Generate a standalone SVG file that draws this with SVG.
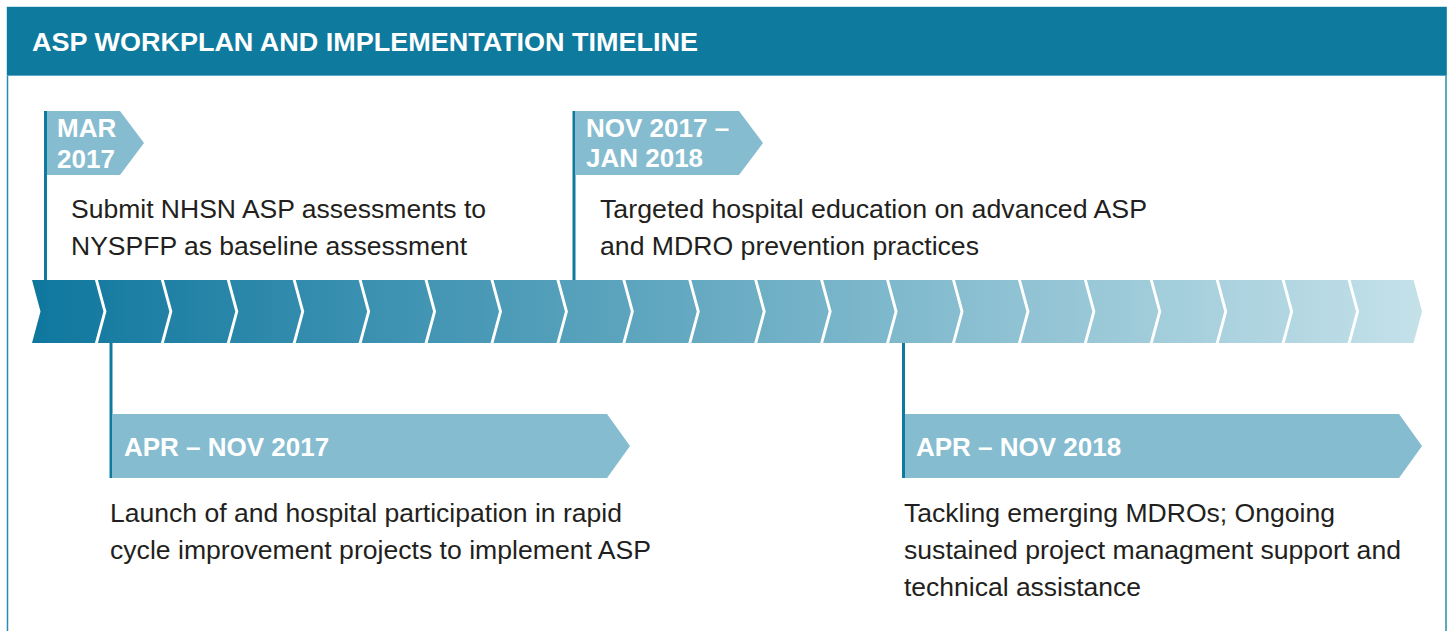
<svg xmlns="http://www.w3.org/2000/svg" width="1448" height="631" viewBox="0 0 1448 631">
<defs>
<style>
.title{font-family:"Liberation Sans",Arial,sans-serif;font-weight:bold;font-size:26px;fill:#fff}
.tag{fill:#86bcd0}
.tagtxt{font-family:"Liberation Sans",Arial,sans-serif;font-weight:bold;font-size:26px;fill:#fff}
.body{font-family:"Liberation Sans",Arial,sans-serif;font-size:25px;fill:#231f20}
.stem{stroke:#0f7a9e;stroke-width:3;fill:none}
</style>
<linearGradient id="band" gradientUnits="userSpaceOnUse" x1="33" y1="0" x2="1422" y2="0">
<stop offset="0" stop-color="#0f779e"/>
<stop offset="1" stop-color="#c4e1e9"/>
</linearGradient>
</defs>
<rect x="0" y="0" width="1448" height="631" fill="#fff"/>
<g id="frame">
<rect x="7.5" y="7.5" width="1438.5" height="640" fill="none" stroke="#2a8bb0" stroke-width="1.5"/>
<rect x="7" y="7" width="1439.5" height="68" fill="#0e7a9e"/>
<line x1="7" y1="75.5" x2="1446" y2="75.5" stroke="#5aa6c4" stroke-width="1"/>
<text class="title" x="32" y="51" textLength="666" lengthAdjust="spacingAndGlyphs">ASP WORKPLAN AND IMPLEMENTATION TIMELINE</text>
</g>
<g id="timeline-band" fill="url(#band)">
<polygon points="32,280 94.93,280 103.43,311.5 94.93,343 32,343 40.5,311.5"/>
<polygon points="97.93,280 160.86,280 169.36,311.5 160.86,343 97.93,343 106.43,311.5"/>
<polygon points="163.86,280 226.79,280 235.29,311.5 226.79,343 163.86,343 172.36,311.5"/>
<polygon points="229.79,280 292.72,280 301.22,311.5 292.72,343 229.79,343 238.29,311.5"/>
<polygon points="295.72,280 358.65,280 367.15,311.5 358.65,343 295.72,343 304.22,311.5"/>
<polygon points="361.65,280 424.58,280 433.08,311.5 424.58,343 361.65,343 370.15,311.5"/>
<polygon points="427.58,280 490.51,280 499.01,311.5 490.51,343 427.58,343 436.08,311.5"/>
<polygon points="493.51,280 556.44,280 564.94,311.5 556.44,343 493.51,343 502.01,311.5"/>
<polygon points="559.44,280 622.37,280 630.87,311.5 622.37,343 559.44,343 567.94,311.5"/>
<polygon points="625.37,280 688.30,280 696.80,311.5 688.30,343 625.37,343 633.87,311.5"/>
<polygon points="691.30,280 754.23,280 762.73,311.5 754.23,343 691.30,343 699.80,311.5"/>
<polygon points="757.23,280 820.16,280 828.66,311.5 820.16,343 757.23,343 765.73,311.5"/>
<polygon points="823.16,280 886.09,280 894.59,311.5 886.09,343 823.16,343 831.66,311.5"/>
<polygon points="889.09,280 952.02,280 960.52,311.5 952.02,343 889.09,343 897.59,311.5"/>
<polygon points="955.02,280 1017.95,280 1026.45,311.5 1017.95,343 955.02,343 963.52,311.5"/>
<polygon points="1020.95,280 1083.88,280 1092.38,311.5 1083.88,343 1020.95,343 1029.45,311.5"/>
<polygon points="1086.88,280 1149.81,280 1158.31,311.5 1149.81,343 1086.88,343 1095.38,311.5"/>
<polygon points="1152.81,280 1215.74,280 1224.24,311.5 1215.74,343 1152.81,343 1161.31,311.5"/>
<polygon points="1218.74,280 1281.67,280 1290.17,311.5 1281.67,343 1218.74,343 1227.24,311.5"/>
<polygon points="1284.67,280 1347.60,280 1356.10,311.5 1347.60,343 1284.67,343 1293.17,311.5"/>
<polygon points="1350.60,280 1413.53,280 1422.03,311.5 1413.53,343 1350.60,343 1359.10,311.5"/>
</g>
<g id="connectors">
<line class="stem" x1="45.5" y1="111" x2="45.5" y2="280"/>
<line class="stem" x1="574" y1="111" x2="574" y2="280"/>
<line class="stem" x1="111" y1="343" x2="111" y2="478"/>
<line class="stem" x1="903.5" y1="343" x2="903.5" y2="478"/>
</g>
<g id="mar-2017">
<polygon class="tag" points="47,111 120,111 144,143 120,175 47,175"/>
<text class="tagtxt" x="57" y="137">MAR</text>
<text class="tagtxt" x="57" y="168">2017</text>
<text class="body" x="71" y="218" textLength="415" lengthAdjust="spacingAndGlyphs">Submit NHSN ASP assessments to</text>
<text class="body" x="71" y="255" textLength="396" lengthAdjust="spacingAndGlyphs">NYSPFP as baseline assessment</text>
</g>
<g id="nov-2017-jan-2018">
<polygon class="tag" points="575.5,111 739,111 763,143 739,175 575.5,175"/>
<text class="tagtxt" x="586" y="137">NOV 2017 –</text>
<text class="tagtxt" x="586" y="167">JAN 2018</text>
<text class="body" x="600" y="218" textLength="547" lengthAdjust="spacingAndGlyphs">Targeted hospital education on advanced ASP</text>
<text class="body" x="600" y="255" textLength="379" lengthAdjust="spacingAndGlyphs">and MDRO prevention practices</text>
</g>
<g id="apr-nov-2017">
<polygon class="tag" points="112.5,414 607,414 630,446 607,478 112.5,478"/>
<text class="tagtxt" x="124" y="456">APR – NOV 2017</text>
<text class="body" x="110" y="522" textLength="512" lengthAdjust="spacingAndGlyphs">Launch of and hospital participation in rapid</text>
<text class="body" x="110" y="559" textLength="541" lengthAdjust="spacingAndGlyphs">cycle improvement projects to implement ASP</text>
</g>
<g id="apr-nov-2018">
<polygon class="tag" points="905,414 1399,414 1422,446 1399,478 905,478"/>
<text class="tagtxt" x="916" y="456">APR – NOV 2018</text>
<text class="body" x="904" y="522" textLength="431" lengthAdjust="spacingAndGlyphs">Tackling emerging MDROs; Ongoing</text>
<text class="body" x="904" y="559" textLength="497" lengthAdjust="spacingAndGlyphs">sustained project managment support and</text>
<text class="body" x="904" y="596" textLength="237" lengthAdjust="spacingAndGlyphs">technical assistance</text>
</g>
</svg>
